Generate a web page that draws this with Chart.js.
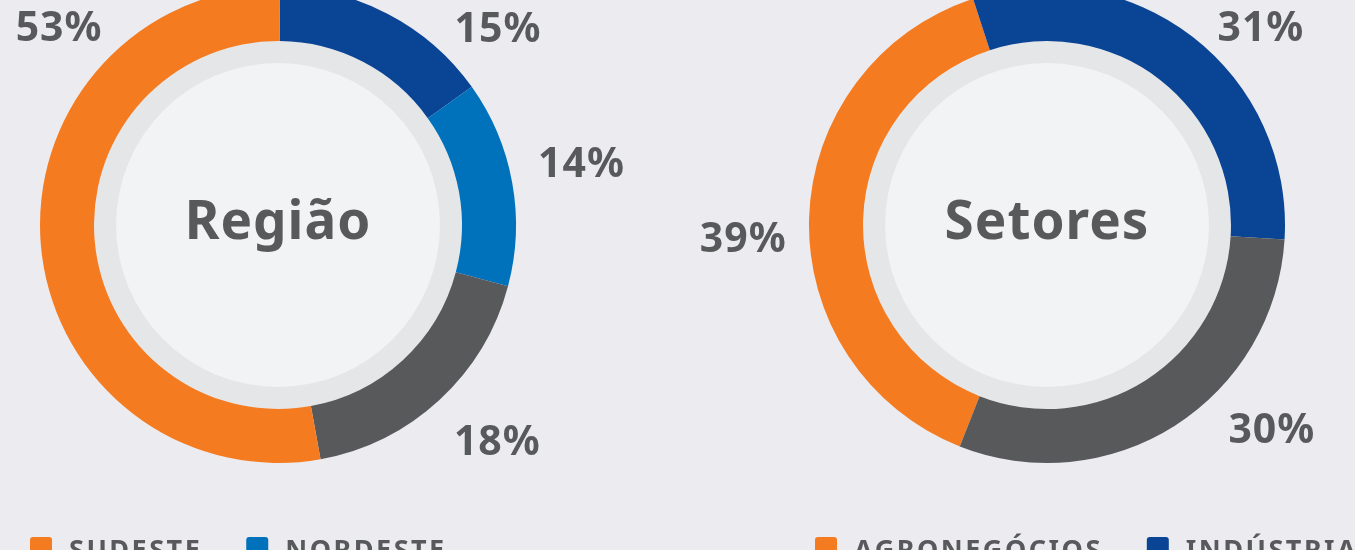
<!DOCTYPE html>
<html>
<head>
<meta charset="utf-8">
<script src="https://cdn.jsdelivr.net/npm/chart.js@4.4.0/dist/chart.umd.min.js"></script>
<style>
  html, body { margin: 0; padding: 0; background: #ebebf0; width: 1355px; height: 550px; overflow: hidden; }
  .box { position: absolute; top: 0; left: 0; width: 1355px; height: 550px; }
</style>
</head>
<body>
<div class="box"><canvas id="regiao"></canvas></div>
<div class="box"><canvas id="setores"></canvas></div>
<script>
// Região
var regiaoLabels = ['Sul', 'Nordeste', 'Centro-Oeste e Norte', 'Sudeste'];
var regiaoValues = [15, 14, 18, 53];
var regiaoColors = ['#0a4595', '#0072bc', '#58595b', '#f47b20'];
var regiaoLegendOrder = [3, 1, 0, 2];

// Setores
var setoresLabels = ['Agronegócios', 'Indústria', 'Serviços'];
var setoresValues = [39, 31, 30];
var setoresColors = ['#f47b20', '#0a4595', '#58595b'];
var setoresLegendOrder = [0, 1, 2];

var TEXT = '#58595b';
var FONT = '"Noto Sans", sans-serif';

// draws the inner discs, the title, the % labels and a left aligned legend
var decor = {
  id: 'decor',
  beforeDatasetsDraw: function (chart, args, o) {
    var arc = chart.getDatasetMeta(0).data[0];
    var ctx = chart.ctx;
    ctx.save();
    ctx.fillStyle = '#e5e6e8';
    ctx.beginPath(); ctx.arc(arc.x, arc.y, arc.innerRadius, 0, Math.PI * 2); ctx.fill();
    ctx.fillStyle = '#f2f3f5';
    ctx.beginPath(); ctx.arc(arc.x, arc.y, arc.innerRadius - 22, 0, Math.PI * 2); ctx.fill();
    ctx.restore();
  },
  afterDatasetsDraw: function (chart, args, o) {
    var meta = chart.getDatasetMeta(0);
    var cx = meta.data[0].x, cy = meta.data[0].y;
    var ctx = chart.ctx;
    var ds = chart.data.datasets[0];
    ctx.save();
    ctx.fillStyle = TEXT;
    ctx.textAlign = 'center';
    ctx.textBaseline = 'alphabetic';
    ctx.font = 'bold 53px ' + FONT;
    ctx.letterSpacing = '1px';
    ctx.fillText(o.title, cx, cy + 14);

    // percentage labels
    ctx.font = 'bold 41px ' + FONT;
    ctx.letterSpacing = '1px';
    ds.data.forEach(function (v, i) {
      var a = (o.angles[i] - 90) * Math.PI / 180;
      var x = cx + Math.cos(a) * o.dist[i];
      var y = cy + Math.sin(a) * o.dist[i];
      ctx.fillText(v + '%', x, y + 15);
    });

    // legend
    ctx.textAlign = 'left';
    ctx.font = 'bold 27px ' + FONT;
    ctx.letterSpacing = '2.5px';
    var x = o.legendX, y = o.legendY;
    o.order.forEach(function (i) {
      var label = chart.data.labels[i].toUpperCase();
      var w = 39 + ctx.measureText(label).width;
      if (x + w > o.legendMax) { x = o.legendX; y += 40; }
      ctx.fillStyle = ds.backgroundColor[i];
      ctx.beginPath();
      ctx.roundRect(x, y, 22, 22, 3);
      ctx.fill();
      ctx.fillStyle = TEXT;
      ctx.fillText(label, x + 39, y + 22);
      x += w + 44;
    });
    ctx.restore();
  }
};

function makeChart(id, labels, values, colors, rotation, extra) {
  return new Chart(document.getElementById(id), {
    type: 'doughnut',
    data: {
      labels: labels,
      datasets: [{
        data: values,
        backgroundColor: colors,
        borderWidth: 0
      }]
    },
    options: {
      responsive: true,
      maintainAspectRatio: false,
      animation: false,
      radius: 238,
      cutout: '77.3%',
      rotation: rotation,
      layout: { padding: extra.padding },
      plugins: {
        legend: { display: false },
        tooltip: { enabled: false },
        decor: extra
      }
    },
    plugins: [decor]
  });
}

makeChart('regiao', regiaoLabels, regiaoValues, regiaoColors, 0.5, {
  title: 'Região',
  angles: [48, 78.3, 134.4, 312.3],
  dist: [296, 310, 307, 296],
  order: regiaoLegendOrder,
  legendX: 30, legendY: 537, legendMax: 520,
  padding: { top: 0, bottom: 100, left: 0, right: 799 }
});

makeChart('setores', setoresLabels, setoresValues, setoresColors, 201.5, {
  title: 'Setores',
  angles: [267.7, 47.1, 132.1],
  dist: [304, 292, 303],
  order: setoresLegendOrder,
  legendX: 815, legendY: 537, legendMax: 1360,
  padding: { top: 0, bottom: 100, left: 769, right: 30 }
});
</script>
</body>
</html>
